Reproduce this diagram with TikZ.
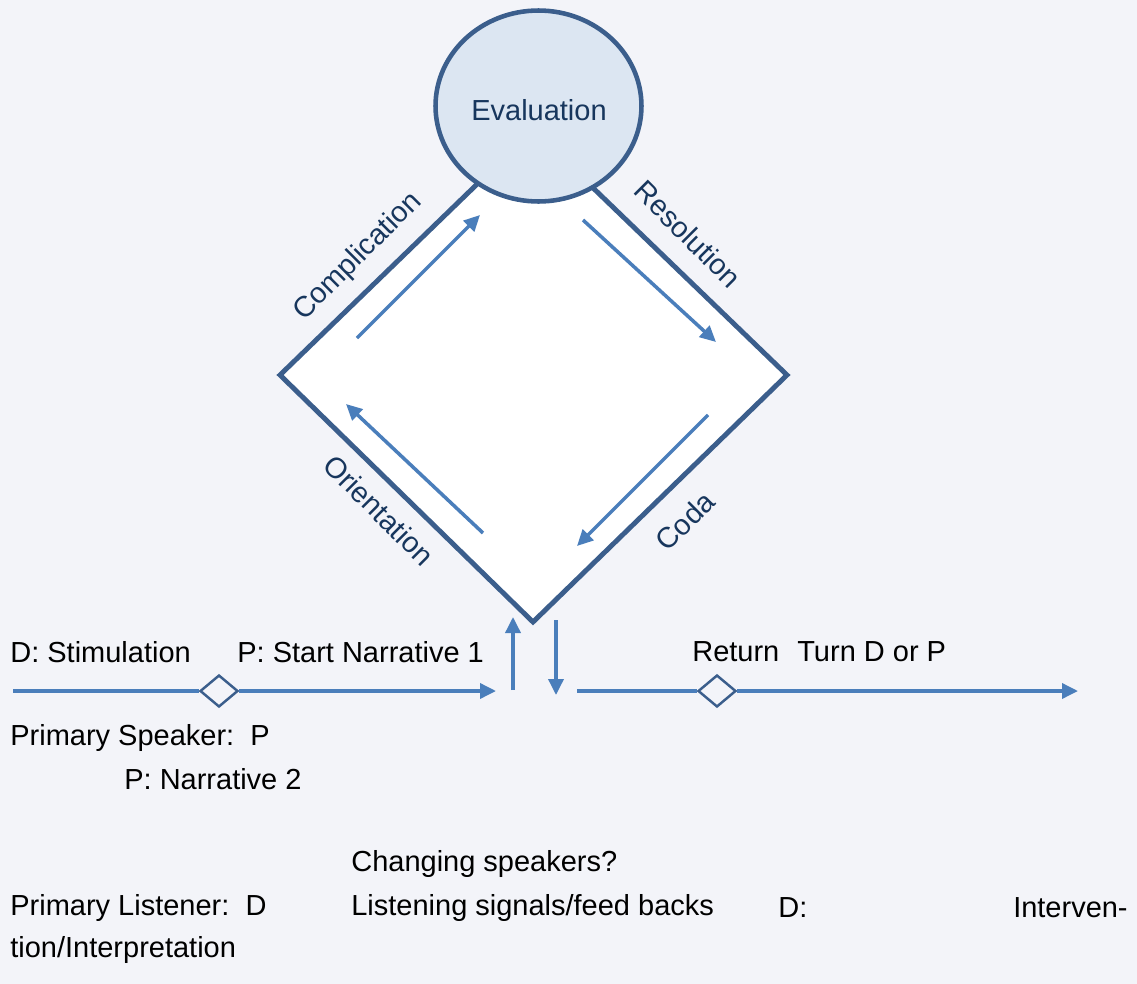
\documentclass[tikz,border=0pt]{standalone}
\usepackage{fontspec}
\setmainfont{Liberation Sans}
\usepackage{xcolor}
\usetikzlibrary{arrows.meta,shapes.geometric,positioning}

\definecolor{bgcol}{HTML}{F3F4F9}
\definecolor{rimblue}{HTML}{3B5E8C}
\definecolor{flowblue}{HTML}{4A7EBB}
\definecolor{capnavy}{HTML}{17365D}
\definecolor{evalfill}{HTML}{DCE6F2}

\begin{document}
\begin{tikzpicture}[x=0.02cm,y=-0.02cm,
	every node/.style={font=\fontsize{16.5}{20}\selectfont},
	flow/.style={draw=flowblue,line width=2pt,-{Triangle[length=0.32cm,width=0.3cm]}},
	rail/.style={draw=flowblue,line width=2pt},
	marker/.style={diamond,draw=rimblue,fill=bgcol,line width=1.4pt,minimum width=0.76cm,minimum height=0.64cm,inner sep=0pt},
	phase/.style={text=capnavy,inner sep=0pt},
	txt/.style={anchor=west,inner sep=0pt,text=black}]
	% Hintergrund
	\fill[bgcol] (0,0) rectangle (1137,984);
	\useasboundingbox (0,0) rectangle (1137,984);

	% Raute
	\coordinate (L) at (280,375);
	\coordinate (T) at (533,130);
	\coordinate (R) at (787,375);
	\coordinate (B) at (533,622);
	\draw[rimblue,fill=white,line width=2.8pt,line join=miter] (L) -- (T) -- (R) -- (B) -- cycle;

	% Evaluation
	\node[ellipse,draw=rimblue,fill=evalfill,line width=2.6pt,minimum width=4.12cm,minimum height=3.82cm,text=capnavy] (eval) at (538.5,106) {};
	\node[text=capnavy] (evaltxt) at (539,110) {Evaluation};

	% Pfeile innen
	\coordinate (c1) at (357,338); \coordinate (c2) at (480,215);
	\coordinate (r1) at (583,220); \coordinate (r2) at (716,342);
	\coordinate (d1) at (708,415); \coordinate (d2) at (577,546);
	\coordinate (o1) at (483,533); \coordinate (o2) at (346,404);
	\draw[flow] (c1) -- (c2);
	\draw[flow] (r1) -- (r2);
	\draw[flow] (d1) -- (d2);
	\draw[flow] (o1) -- (o2);

	\node[phase,rotate=45] (compl) at (358,257) {Complication};
	\node[phase,rotate=-45] (resol) at (688,234) {Resolution};
	\node[phase,rotate=-45] (orient) at (379,510) {Orientation};
	\node[phase,rotate=45] (coda) at (685,521) {Coda};

	% rein und raus
	\coordinate (up1) at (513,690); \coordinate (up2) at (513,617);
	\coordinate (dn1) at (556,620); \coordinate (dn2) at (556,695);
	\draw[flow] (up1) -- (up2);
	\draw[flow] (dn1) -- (dn2);

	% Zeitachse
	\coordinate (a0) at (13,691);
	\node[marker] (m1) at (219,691) {};
	\coordinate (a1) at (496,691);
	\coordinate (b0) at (577,691);
	\node[marker] (m2) at (717,691) {};
	\coordinate (b1) at (1078,691);
	\draw[rail] (a0) -- (m1);
	\draw[flow] (m1) -- (a1);
	\draw[rail] (b0) -- (m2);
	\draw[flow] (m2) -- (b1);

	% Texte
	\node[txt] (stim) at (10,652) {D: Stimulation};
	\node[txt] (start) at (237,652) {P: Start Narrative 1};
	\node[txt] (ret) at (692,652) {Return};
	\node[txt] (turn) at (797,652) {Turn D or P};
	\node[txt] (speak) at (10,738) {Primary Speaker:\ \ P};
	\node[txt] (narr) at (124,779) {P: Narrative 2};
	\node[txt] (chg) at (351,864) {Changing speakers?};
	\node[txt] (listen) at (10,908) {Primary Listener:\ \ D};
	\node[txt] (signal) at (351,908) {Listening signals/feed backs};
	\node[txt] (dcol) at (778,908) {D:};
	\node[anchor=east,inner sep=0pt] (interv) at (1128,908) {Interven-};
	\node[txt] (interp) at (10,950) {tion/Interpretation};
\end{tikzpicture}
\end{document}
